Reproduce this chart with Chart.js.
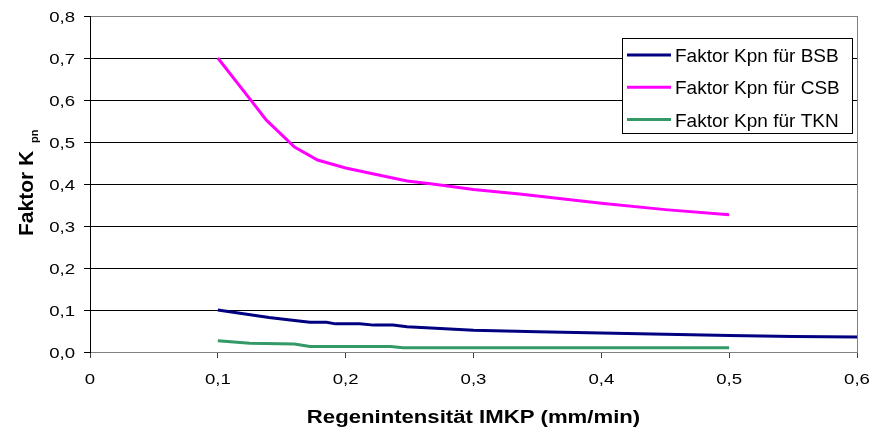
<!DOCTYPE html>
<html>
<head>
<meta charset="utf-8">
<script src="https://cdn.jsdelivr.net/npm/chart.js@4"></script>
<style>
  html, body { margin: 0; padding: 0; background: #fff; }
  #wrap { width: 874px; height: 434px; }
</style>
</head>
<body>
<div id="wrap"><canvas id="chart"></canvas></div>
<script>
// Chart data
const xTickLabels = ['0', '0,1', '0,2', '0,3', '0,4', '0,5', '0,6'];
const yTickLabels = ['0,0', '0,1', '0,2', '0,3', '0,4', '0,5', '0,6', '0,7', '0,8'];
const seriesNames = ['Faktor Kpn für BSB', 'Faktor Kpn für CSB', 'Faktor Kpn für TKN'];
const seriesColors = ['#000080', '#ff00ff', '#339966'];

const bsbX = [0.1, 0.12, 0.14, 0.16, 0.172, 0.185, 0.192, 0.211, 0.222, 0.237, 0.248, 0.3, 0.35, 0.4, 0.45, 0.5, 0.55, 0.6];
const bsbY = [0.1, 0.091, 0.082, 0.075, 0.071, 0.071, 0.067, 0.067, 0.064, 0.064, 0.06, 0.052, 0.048, 0.045, 0.042, 0.039, 0.037, 0.036];

const csbX = [0.1, 0.127, 0.138, 0.16, 0.178, 0.2, 0.222, 0.248, 0.268, 0.3, 0.336, 0.4, 0.45, 0.5];
const csbY = [0.7, 0.595, 0.552, 0.488, 0.457, 0.438, 0.424, 0.407, 0.4, 0.387, 0.376, 0.354, 0.339, 0.327];

const tknX = [0.1, 0.125, 0.16, 0.172, 0.235, 0.245, 0.5];
const tknY = [0.027, 0.021, 0.019, 0.013, 0.013, 0.01, 0.01];

const xTitle = 'Regenintensität IMKP (mm/min)';
const yTitle = 'Faktor K';
const yTitleSub = 'pn';

const FONT = '"Liberation Sans", Arial, sans-serif';

function pts(xs, ys) {
    return xs.map((x, i) => ({ x: x, y: ys[i] }));
}

// text is drawn a bit wider than normal, like in the reference
function wideText(ctx, text, x, y, sx, align) {
    ctx.save();
    ctx.translate(x, y);
    ctx.scale(sx, 1);
    ctx.textAlign = align;
    ctx.fillText(text, 0, 0);
    ctx.restore();
}

const textPlugin = {
    id: 'textPlugin',
    afterDraw(chart) {
        const ctx = chart.ctx;
        const area = chart.chartArea;
        const xs = chart.scales.x;
        const ys = chart.scales.y;
        ctx.save();

        // right border of plot area
        ctx.strokeStyle = '#808080';
        ctx.lineWidth = 1;
        ctx.beginPath();
        ctx.moveTo(area.right + 0.5, area.top);
        ctx.lineTo(area.right + 0.5, area.bottom);
        ctx.stroke();

        // tick labels
        ctx.fillStyle = '#000';
        ctx.textBaseline = 'alphabetic';
        ctx.font = '15.5px ' + FONT;
        ys.ticks.forEach(t => {
            const py = ys.getPixelForValue(t.value);
            wideText(ctx, yTickLabels[Math.round(t.value * 10)], area.left - 15, py + 5.5, 1.2, 'right');
        });
        xs.ticks.forEach(t => {
            const px = xs.getPixelForValue(t.value);
            wideText(ctx, xTickLabels[Math.round(t.value * 10)], px, area.bottom + 32, 1.2, 'center');
        });

        // axis titles
        ctx.font = 'bold 18px ' + FONT;
        wideText(ctx, xTitle, (area.left + area.right) / 2, 423, 1.23, 'center');

        ctx.save();
        ctx.translate(33, 236);
        ctx.rotate(-Math.PI / 2);
        ctx.textAlign = 'left';
        ctx.font = 'bold 21px ' + FONT;
        ctx.fillText(yTitle, 0, 0);
        ctx.font = 'bold 11px ' + FONT;
        ctx.fillText(yTitleSub, 93, 5);
        ctx.restore();

        // legend box
        const lx = area.right - 235, ly = 38;
        ctx.fillStyle = '#fff';
        ctx.fillRect(lx, ly, 230, 95);
        ctx.strokeStyle = '#000';
        ctx.lineWidth = 1;
        ctx.strokeRect(lx + 0.5, ly + 0.5, 230, 95);
        ctx.font = '19px ' + FONT;
        ctx.textAlign = 'left';
        chart.data.datasets.forEach((ds, i) => {
            const cy = ly + 17 + i * 32.3;
            ctx.strokeStyle = ds.borderColor;
            ctx.lineWidth = 3;
            ctx.beginPath();
            ctx.moveTo(lx + 5, cy);
            ctx.lineTo(lx + 49, cy);
            ctx.stroke();
            ctx.fillStyle = '#000';
            ctx.fillText(ds.label, lx + 53, cy + 7);
        });

        ctx.restore();
    }
};

const ctx = document.getElementById('chart');

new Chart(ctx, {
    type: 'line',
    data: {
        datasets: [
            { label: seriesNames[0], data: pts(bsbX, bsbY), borderColor: seriesColors[0] },
            { label: seriesNames[1], data: pts(csbX, csbY), borderColor: seriesColors[1] },
            { label: seriesNames[2], data: pts(tknX, tknY), borderColor: seriesColors[2] }
        ]
    },
    options: {
        responsive: true,
        maintainAspectRatio: false,
        animation: false,
        layout: {
            padding: { top: 16, right: 17, left: 0, bottom: 0 }
        },
        elements: {
            line: { borderWidth: 3, tension: 0, fill: false },
            point: { radius: 0 }
        },
        plugins: {
            legend: { display: false },
            tooltip: { enabled: false }
        },
        scales: {
            x: {
                type: 'linear',
                min: 0,
                max: 0.6,
                ticks: { stepSize: 0.1, display: false },
                grid: {
                    drawOnChartArea: false,
                    drawTicks: true,
                    tickLength: 6,
                    tickColor: '#404040'
                },
                border: { color: '#808080', width: 1 },
                afterFit: s => { s.height = 82; }
            },
            y: {
                min: 0,
                max: 0.8,
                ticks: { stepSize: 0.1, display: false },
                grid: {
                    color: c => {
                        const v = c.tick ? c.tick.value : 0.5;
                        return (v < 0.05 || v > 0.75) ? '#808080' : '#000';
                    },
                    tickLength: 6,
                    tickColor: '#000'
                },
                border: { color: '#000', width: 1 },
                afterFit: s => { s.width = 90; }
            }
        }
    },
    plugins: [textPlugin]
});
</script>
</body>
</html>
